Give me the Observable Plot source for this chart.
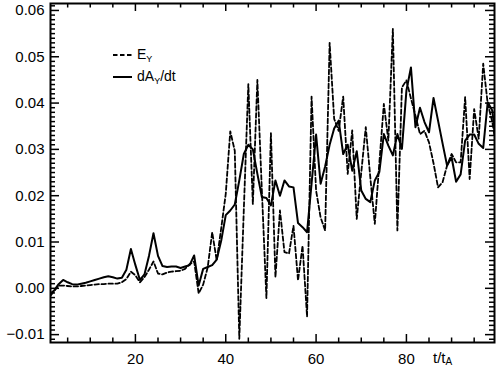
<!DOCTYPE html>
<html><head><meta charset="utf-8">
<script src="https://cdn.jsdelivr.net/npm/d3@7"></script>
<script src="https://cdn.jsdelivr.net/npm/@observablehq/plot@0.6"></script>
<style>body{margin:0;background:#fff}svg{display:block}</style>
</head><body><div id="chart"></div>
<script>
// time axis t/t_A
const tValues = [1.2,2,3,4,5,6,7,8,9,10,11,12,13,14,15,16,17,18,19,20,21,22,23,24,25,26,27,28,29,30,
31,32,33,34,35,36,37,38,39,40,41,42,43,44,45,46,47,48,49,50,51,52,53,54,55,56,57,58,59,60,
61,62,63,64,65,66,67,68,69,70,71,72,73,74,75,76,77,78,79,80,81,82,83,84,85,86,87,88,89,90,
91,92,93,94,95,96,97,98,99,100];
// E_Y (dashed), units of 1e-3
const eyValues = [-1.6,-0.6,0.6,0.6,0.5,0.4,0.4,0.5,0.6,0.7,0.8,0.9,0.9,1.0,1.0,1.0,1.3,2.0,3.6,2.8,
1.3,2.4,4.0,5.8,3.2,3.0,3.4,3.6,3.7,3.8,4.2,5.2,5.8,-1.1,0.8,4.5,12.1,6.0,13.0,20.4,
33.9,29.7,-10.9,17.0,44.1,18.2,45.0,21.0,-2.1,33.5,2.4,16.8,7.8,7.5,13.5,1.7,9.2,-6.1,41.4,21.1,
15.3,12.5,53.0,36.6,34.0,41.4,24.7,34.1,15.0,25.0,34.8,24.0,13.9,27.0,39.8,31.9,56.0,12.5,43.4,44.9,
41.0,37.3,33.3,34.0,31.5,27.0,21.8,22.9,26.5,29.0,27.2,27.2,41.3,23.6,38.7,32.3,48.5,39.8,36.0,30.0];
// dA_Y/dt (solid), units of 1e-3
const dadtValues = [-1.1,-0.5,0.9,1.8,1.3,0.9,0.8,1.0,1.2,1.5,1.8,2.1,2.4,2.6,2.4,2.1,2.3,4.0,8.5,5.0,
1.8,3.0,7.0,11.9,7.0,4.8,4.6,4.7,4.7,4.4,4.7,5.0,7.1,0.6,4.2,4.6,5.0,6.2,10.3,15.8,
16.8,18.1,23.3,29.0,31.0,30.0,24.7,19.7,19.5,17.9,23.3,20.0,23.3,22.0,21.8,14.1,13.2,12.1,22.6,33.2,
22.6,26.3,31.0,34.5,36.2,29.0,31.0,25.4,29.6,21.1,19.3,18.6,23.3,25.1,33.3,30.8,28.7,33.3,30.1,42.7,
47.7,34.8,39.0,35.9,33.7,41.1,36.2,31.3,26.5,28.3,23.0,24.6,31.9,33.2,33.2,31.2,30.3,40.2,38.4,30.5];

const xDomain = [1.2, 99.5];
const yDomain = [-0.0117, 0.0615];
const xMajorTicks = [20, 40, 60, 80];
const xMinorTicks = [5,10,15,25,30,35,45,50,55,65,70,75,85,90,95];
const yMajorTicks = [-0.01, 0, 0.01, 0.02, 0.03, 0.04, 0.05, 0.06];
const yMinorTicks = d3.range(-11, 62).filter(k => k % 10 !== 0).map(k => k / 1000);

const ey = tValues.map((t, i) => ({t, v: eyValues[i] / 1000}));
const dadt = tValues.map((t, i) => ({t, v: dadtValues[i] / 1000}));

const W = 496, H = 366, mT = 3, mB = 24, mL = 50, mR = 2;
const innerH = H - mT - mB, innerW = W - mL - mR;
const font = "'Liberation Sans', Arial, Helvetica, sans-serif";

const plot = Plot.plot({
  width: W, height: H,
  marginTop: mT, marginBottom: mB, marginLeft: mL, marginRight: mR,
  style: {fontFamily: font, fontSize: "15px", color: "black", background: "white"},
  x: {domain: xDomain},
  y: {domain: yDomain},
  marks: [
    Plot.axisX({ticks: xMajorTicks, tickSize: 0, tickPadding: 11, tickFormat: d3.format("d"), label: null, fontSize: 15}),
    Plot.axisY({ticks: yMajorTicks, tickSize: 0, tickPadding: 6, tickFormat: d3.format(".2f"), label: null, fontSize: 15}),
    Plot.tickX(xMajorTicks, {x: d => d, insetTop: innerH - 8, stroke: "black", strokeWidth: 1.5}),
    Plot.tickX(xMajorTicks, {x: d => d, insetBottom: innerH - 8, stroke: "black", strokeWidth: 1.5}),
    Plot.tickX(xMinorTicks, {x: d => d, insetTop: innerH - 4.5, stroke: "black", strokeWidth: 1.5}),
    Plot.tickX(xMinorTicks, {x: d => d, insetBottom: innerH - 4.5, stroke: "black", strokeWidth: 1.5}),
    Plot.tickY(yMajorTicks, {y: d => d, insetRight: innerW - 9, stroke: "black", strokeWidth: 1.5}),
    Plot.tickY(yMajorTicks, {y: d => d, insetLeft: innerW - 9, stroke: "black", strokeWidth: 1.5}),
    Plot.tickY(yMinorTicks, {y: d => d, insetRight: innerW - 5, stroke: "black", strokeWidth: 1.5}),
    Plot.tickY(yMinorTicks, {y: d => d, insetLeft: innerW - 5, stroke: "black", strokeWidth: 1.5}),
    Plot.line(ey, {x: "t", y: "v", stroke: "black", strokeWidth: 1.8, strokeDasharray: "4.5,2.5", clip: true}),
    Plot.line(dadt, {x: "t", y: "v", stroke: "black", strokeWidth: 2, clip: true}),
    Plot.frame({stroke: "black", strokeWidth: 2})
  ]
});
document.getElementById("chart").appendChild(plot);

// legend and axis title with subscripts
const svg = d3.select(plot);
const g = svg.append("g").attr("font-family", font).attr("fill", "black").attr("text-anchor", "start");
g.append("line").attr("x1", 113).attr("x2", 132).attr("y1", 55).attr("y2", 55)
  .attr("stroke", "black").attr("stroke-width", 1.8).attr("stroke-dasharray", "4.5,2.5");
g.append("line").attr("x1", 113).attr("x2", 132).attr("y1", 77).attr("y2", 77)
  .attr("stroke", "black").attr("stroke-width", 2);
const t1 = g.append("text").attr("x", 137).attr("y", 59).attr("font-size", 14);
t1.append("tspan").text("E");
t1.append("tspan").attr("font-size", 9).attr("dy", 3).text("Y");
const t2 = g.append("text").attr("x", 137).attr("y", 81).attr("font-size", 14);
t2.append("tspan").text("dA");
t2.append("tspan").attr("font-size", 9).attr("dy", 3).text("Y");
t2.append("tspan").attr("dy", -3).text("/dt");
const t3 = g.append("text").attr("x", 433).attr("y", 363).attr("font-size", 15);
t3.append("tspan").text("t/t");
t3.append("tspan").attr("font-size", 10).attr("dy", 2).text("A");
</script></body></html>
